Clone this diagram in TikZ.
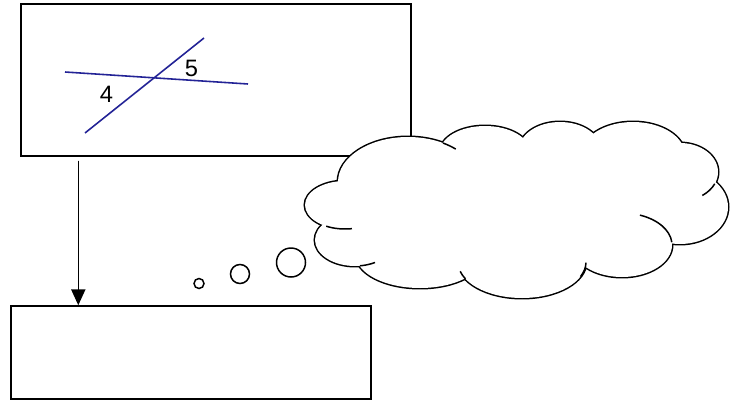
\documentclass[tikz,border=0pt]{standalone}
\usepackage{fontspec}
\setmainfont{Liberation Sans}
\usetikzlibrary{arrows.meta,calc}
\definecolor{navy}{RGB}{35,35,150}
\definecolor{ink}{RGB}{0,0,0}
\tikzset{
  >={Triangle[length=9pt,width=8pt]},
  box/.style={draw=ink,line width=0.85pt,fill=white,inner sep=0pt},
  flow/.style={->,line width=0.85pt,draw=#1,fill=#1},
  flow/.default=ink,
  ray/.style={draw=navy,line width=0.9pt},
  tag/.style={font=\fontsize{13.5}{16}\selectfont,text=ink,inner sep=0pt},
  bubble/.style={draw=ink,fill=white,line width=0.85pt},
  puff/.style={draw=ink,line width=1.7pt},
  stub/.style={draw=ink,line width=0.85pt},
}
\begin{document}
\begin{tikzpicture}[x=0.02cm,y=-0.02cm]
  \useasboundingbox (0,0) rectangle (743,402);
  \node[box,minimum width=7.8cm,minimum height=3.04cm] (topbox) at (216,80) {};
  \node[box,minimum width=7.2cm,minimum height=1.86cm] (botbox) at (191,352.5) {};
  % angle figure
  \draw[ray] (65,72) -- (248,84);
  \draw[ray] (85,133) -- (204,38);
  \node[tag] (four) at (106.5,94.5) {4};
  \node[tag] (five) at (191.5,68) {5};
  \coordinate (tail) at ($(topbox.south west)+(58,4)$);
  \draw[flow] (tail) -- (tail |- botbox.north);
  % thought cloud
  \foreach \cx/\cy/\rx/\ry in {408/182/70/45,485/152/45/26,560/150/41/28,633/155/52/33,
      680/172/38/29,680/207/48/37,622/245/50/32,522/262/64/36,420/255/64/33,355/240/40/26,345/205/40/24}
    \draw[puff] (\cx,\cy) ellipse [x radius=\rx,y radius=\ry];
  \foreach \cx/\cy/\rx/\ry in {408/182/70/45,485/152/45/26,560/150/41/28,633/155/52/33,
      680/172/38/29,680/207/48/37,622/245/50/32,522/262/64/36,420/255/64/33,355/240/40/26,345/205/40/24}
    \fill[white] (\cx,\cy) ellipse [x radius=\rx,y radius=\ry];
  \fill[white] (408,182) -- (485,152) -- (560,150) -- (633,155) -- (680,172) -- (680,207)
    -- (622,245) -- (522,262) -- (420,255) -- (355,240) -- (345,205) -- cycle;
  \foreach \cx/\cy/\rx/\ry/\a/\b in {408/182/70/45/-60/-47,680/172/38/29/24/54,622/245/50/32/-5/-69,
      522/262/64/36/24/1,522/262/64/36/152/165,355/240/40/26/83/60,345/205/40/24/118/80}
    \draw[stub] (\cx,\cy) ++({\rx*cos(\a)},{\ry*sin(\a)}) arc[start angle=\a,end angle=\b,x radius=\rx,y radius=\ry];
  % bubbles
  \draw[bubble] (199,283.5) circle[radius=5];
  \draw[bubble] (240,274) circle[radius=9.5];
  \draw[bubble] (291,262.5) circle[radius=14.5];
\end{tikzpicture}
\end{document}
